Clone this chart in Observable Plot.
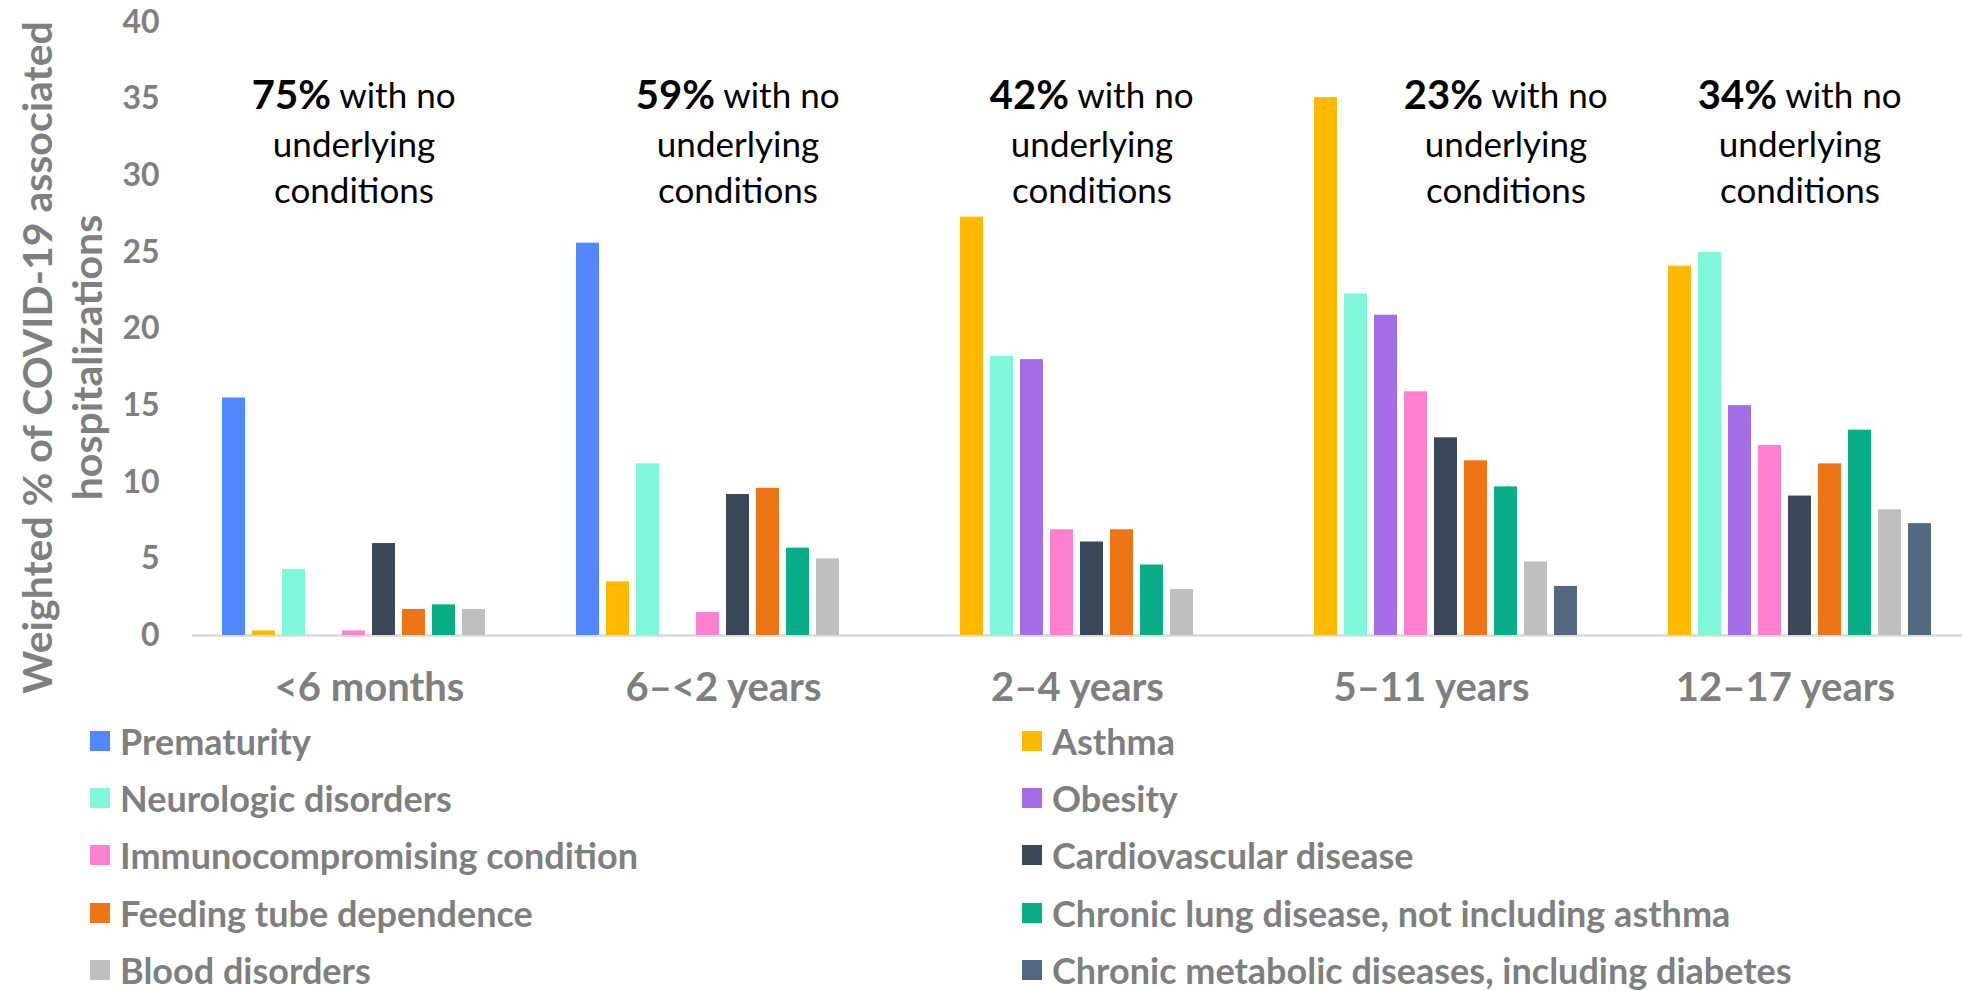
<!DOCTYPE html>
<html><head><meta charset="utf-8">
<script src="https://cdn.jsdelivr.net/npm/d3@7"></script>
<script src="https://cdn.jsdelivr.net/npm/@observablehq/plot@0.6"></script>
<style>
html,body{margin:0;padding:0;background:#fff;overflow:hidden;}
#chart svg{display:block;}
#chart [aria-label^="fx-axis"] text{font-size:40px;font-weight:700;}
.legend{display:grid;grid-template-columns:932px 932px;padding-left:90px;font-family:Lato,sans-serif;font-weight:700;font-size:36px;color:#7f7f7f;}
.legend .item{display:flex;align-items:center;height:57.4px;white-space:nowrap;}
.legend .sw{width:20px;height:20px;margin-right:10px;flex:none;}
</style></head><body><div id="chart"></div>
<script>
// ---- data ----
const ageGroups = ["<6 months", "6–<2 years", "2–4 years", "5–11 years", "12–17 years"];
const conditions = [
  "Prematurity", "Asthma",
  "Neurologic disorders", "Obesity",
  "Immunocompromising condition", "Cardiovascular disease",
  "Feeding tube dependence", "Chronic lung disease, not including asthma",
  "Blood disorders", "Chronic metabolic diseases, including diabetes"
];
const prematurity  = [15.5, 25.6, null, null, null];
const asthma       = [0.3, 3.5, 27.3, 35.1, 24.1];
const neurologic   = [4.3, 11.2, 18.2, 22.3, 25.0];
const obesity      = [null, null, 18.0, 20.9, 15.0];
const immuno       = [0.3, 1.5, 6.9, 15.9, 12.4];
const cardio       = [6.0, 9.2, 6.1, 12.9, 9.1];
const feedingTube  = [1.7, 9.6, 6.9, 11.4, 11.2];
const chronicLung  = [2.0, 5.7, 4.6, 9.7, 13.4];
const blood        = [1.7, 5.0, 3.0, 4.8, 8.2];
const metabolic    = [null, null, null, 3.2, 7.3];
const seriesValues = [prematurity, asthma, neurologic, obesity, immuno, cardio, feedingTube, chronicLung, blood, metabolic];
const colors = ["#5387fe", "#ffb900", "#7ef8d9", "#a56ce8", "#ff7fd1", "#3b4859", "#ed7516", "#0aae86", "#bfbfbf", "#526981"];
const noConditionPct = ["75%", "59%", "42%", "23%", "34%"];
const annotationAnchor = ["Immunocompromising condition", "Cardiovascular disease", "Cardiovascular disease", "Chronic lung disease, not including asthma", "Cardiovascular disease"];
const yTicks = [0, 5, 10, 15, 20, 25, 30, 35, 40];
const yTitle = "Weighted % of COVID-19 associated\nhospitalizations";

// ---- build ----
const rows = [];
ageGroups.forEach((g, i) => conditions.forEach((c, j) => {
  const v = seriesValues[j][i];
  if (v != null) rows.push({group: g, condition: c, value: v});
}));
const ann = ageGroups.map((g, i) => ({group: g, condition: annotationAnchor[i], pct: noConditionPct[i]}));

const gray = "#7f7f7f";
const boldSize = 40, regSize = 35;
const ctx = document.createElement("canvas").getContext("2d");
const measure = (t, f) => { ctx.font = f; return ctx.measureText(t).width; };
const wb = measure("75%", `bold ${boldSize}px Lato`);
const wr = measure(" with no", `${regSize}px Lato`);
const split = (wb - wr) / 2;

const chart = Plot.plot({
  width: 1962, height: 712,
  marginLeft: 192, marginRight: 0, marginTop: 22, marginBottom: 77,
  style: {fontFamily: "Lato, sans-serif", fontSize: "32px", fontWeight: 700, color: gray, background: "#fff", overflow: "visible"},
  fx: {domain: ageGroups, padding: 0, axis: "bottom", label: null, tickSize: 0, tickPadding: 37},
  x: {domain: conditions, axis: null, paddingInner: 0.22, paddingOuter: 0.856},
  y: {domain: [0, 40], ticks: yTicks, tickSize: 0, tickPadding: 33, label: null},
  color: {domain: conditions, range: colors},
  marks: [
    Plot.ruleY([0], {stroke: "#d9d9d9", strokeWidth: 2.5}),
    Plot.barY(rows, {fx: "group", x: "condition", y: "value", fill: "condition"}),
    Plot.text(ann, {fx: "group", x: "condition", text: "pct", frameAnchor: "top", lineAnchor: "middle", dy: 74, dx: split,
      textAnchor: "end", fontSize: boldSize, fontWeight: 700, fill: "#000"}),
    Plot.text(ann, {fx: "group", x: "condition", text: () => " with no", frameAnchor: "top", lineAnchor: "middle", dy: 74, dx: split,
      textAnchor: "start", fontSize: regSize, fontWeight: 400, fill: "#000"}),
    Plot.text(ann, {fx: "group", x: "condition", text: () => "underlying\nconditions", frameAnchor: "top", lineAnchor: "middle", dy: 143,
      lineHeight: 1.3, textAnchor: "middle", fontSize: regSize, fontWeight: 400, fill: "#000"}),
    Plot.text([yTitle], {fx: () => ageGroups[0], text: d => d, frameAnchor: "left", rotate: -90, textAnchor: "middle", lineAnchor: "middle",
      dx: -132, dy: 28.5, lineHeight: 1.22, fontSize: 41, fontWeight: 700, fill: gray})
  ]
});
const root = document.getElementById("chart");
root.appendChild(chart);

// ---- legend ----
const colorScale = chart.scale("color");
const legend = d3.select(root).append("div").attr("class", "legend");
const items = legend.selectAll("div.item").data(conditions).join("div").attr("class", "item");
items.append("div").attr("class", "sw").style("background", d => colorScale.apply(d));
items.append("span").text(d => d);
</script></body></html>
